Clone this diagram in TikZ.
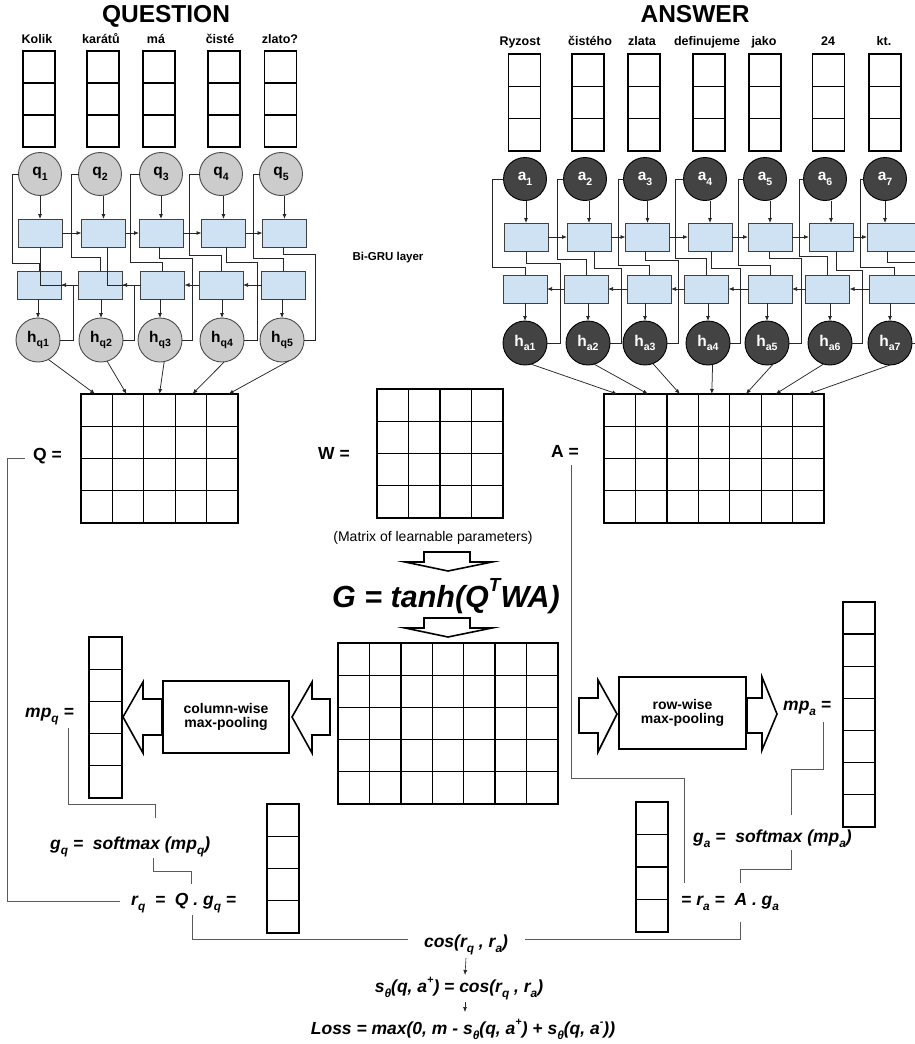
\documentclass[tikz,border=0pt]{standalone}
\usepackage{fontspec}
\usepackage{graphicx}
\setmainfont{Liberation Sans}
\usetikzlibrary{arrows.meta,calc}
\definecolor{grufill}{HTML}{CFE2F3}
\definecolor{qfill}{HTML}{CCCCCC}
\definecolor{afill}{HTML}{434343}
\definecolor{lgray}{HTML}{5A5A5A}
\newcommand\sbs[1]{\raisebox{-0.3em}{\scalebox{0.68}{#1}}}
\newcommand\sps[1]{\raisebox{0.5em}{\scalebox{0.62}{#1}}}
\newcommand\fs[1]{\fontsize{#1}{#1}\selectfont}
\newcommand\vcol[6]{%
  \node[mbox, minimum width=#6, minimum height={#4*#5}, anchor=north] (#1) at (#2,#3) {};
  \pgfmathtruncatemacro\nmc{#4-1}%
  \foreach \k in {1,...,\nmc}{\draw[matl] ($(#1.north west)+(0,\k*#5)$) -- ($(#1.north east)+(0,\k*#5)$);}
}
\newcommand\mgrid[7]{%
  \node[mbox, minimum width={#4-#2}, minimum height={#5-#3}, anchor=north west] (#1) at (#2,#3) {};
  \pgfmathtruncatemacro\mgc{#6-1}%
  \pgfmathtruncatemacro\mgr{#7-1}%
  \foreach \k in {1,...,\mgc}{\draw[matl] ($(#1.north west)!\k/#6!(#1.north east)$) -- ($(#1.south west)!\k/#6!(#1.south east)$);}
  \foreach \k in {1,...,\mgr}{\draw[matl] ($(#1.north west)!\k/#7!(#1.south west)$) -- ($(#1.north east)!\k/#7!(#1.south east)$);}
}
\begin{document}
\begin{tikzpicture}[x=1pt,y=-1pt,
  conn/.style={draw=black!85, line width=0.75pt},
  gconn/.style={draw=lgray, line width=0.8pt},
  arr/.style={conn, -{Latex[length=5pt,width=4pt]}},
  matl/.style={line width=1.3pt},
  mbox/.style={draw, line width=1.3pt, inner sep=0pt, outer sep=0pt},
  gru/.style={draw=black!75, fill=grufill, line width=0.9pt, minimum width=44pt, minimum height=28pt, inner sep=0pt, outer sep=0pt},
  qc/.style={circle, draw=black!70, fill=qfill, line width=0.9pt, minimum size=43pt, inner sep=0pt, outer sep=0pt, font=\bfseries\fs{15.5}},
  ac/.style={qc, draw=black, fill=afill, text=white},
  hqc/.style={qc, minimum size=44pt},
  hac/.style={ac, minimum size=44pt},
  wd/.style={font=\bfseries\fs{12.5}, anchor=base, inner sep=0pt},
  lbl/.style={font=\bfseries\fs{17.5}, inner sep=0pt},
  eq/.style={font=\bfseries\itshape\fs{17.5}, inner sep=0pt},
  blk/.style={draw, line width=1.6pt, fill=white, line join=miter},
  pool/.style={draw, line width=1.8pt, minimum width=126pt, minimum height=72pt, font=\bfseries\fs{14}, align=center, inner sep=0pt},
]
\useasboundingbox (0,0) rectangle (914,1044);
\fill[white] (0,0) rectangle (914,1044);

% titles
\node[font=\bfseries\fs{24.5}, anchor=base, inner sep=0pt] (tq) at (166,23) {QUESTION};
\node[font=\bfseries\fs{24.5}, anchor=base, inner sep=0pt] (ta) at (695,22) {ANSWER};

% words
\foreach \w/\x [count=\i] in {Kolik/37, karátů/101, má/156, čisté/220, zlato?/280}{\node[wd] (wq\i) at (\x,43) {\w};}
\foreach \w/\x [count=\i] in {Ryzost/520, čistého/590, zlata/642, definujeme/707, jako/764, 24/828, kt./884}{\node[wd] (wa\i) at (\x,45) {\w};}

% word vectors
\foreach \x [count=\i] in {39,103,159,224,280.5}{\vcol{vq\i}{\x}{51}{3}{32}{32}}
\foreach \x [count=\i] in {524.5,588,644,709,765,828.5,885}{\vcol{va\i}{\x}{54}{3}{32.3}{32}}

% input circles
\foreach \x [count=\i] in {40,100,161,221,281}{\node[qc] (q\i) at (\x,174) {q\sbs{\i}};}
\foreach \x [count=\i] in {525,585,645,705,765,825,885}{\node[ac] (a\i) at (\x,179) {a\sbs{\i}};}

% GRU boxes
\foreach \x [count=\i] in {40,103.5,161,223.5,284.5}{\node[gru] (fq\i) at (\x,233) {};}
\foreach \x [count=\i] in {39,100,162.5,221,283.5}{\node[gru] (bq\i) at (\x,285) {};}
\foreach \x [count=\i] in {526,589,647.5,710,770,831}{\node[gru] (fa\i) at (\x,237) {};}
\node[gru, minimum width=50pt] (fa7) at (892,237) {};
\foreach \x [count=\i] in {525,586,649,706.5,770,827.5}{\node[gru] (ba\i) at (\x,289) {};}
\node[gru, minimum width=50pt] (ba7) at (894,289) {};

% output circles
\foreach \x [count=\i] in {38,101,160,222,282}{\node[hqc] (hq\i) at (\x,340) {h\sbs{q\i}};}
\foreach \x [count=\i] in {525,588,645,708,767,830,890}{\node[hac] (ha\i) at (\x,343) {h\sbs{a\i}};}

\node[font=\bfseries\fs{11.5}] (bigru) at (388,258) {Bi-GRU layer};

% question GRU connections
\foreach \i in {1,...,5}{
  \draw[arr] (fq\i.north |- q\i.south) -- (fq\i.north);
  \draw[arr] (bq\i.south -| hq\i.north) -- (hq\i.north);
}
\foreach \i/\j in {1/2,2/3,3/4,4/5}{
  \draw[arr] (fq\i.east) -- (fq\j.west);
  \draw[arr] (bq\j.west) -- (bq\i.east);
}
\foreach \i/\xx/\yy in {1/12/263, 2/71/257, 3/130/262, 4/189/255, 5/253/258}{
  \draw[conn] (q\i.west) -| (\xx,\yy) -| (bq\i.north);
}
\foreach \i/\s/\yy/\xx in {1/0/285/73, 2/3.5/285/134, 3/-1.5/258/192, 4/2.5/262/257, 5/-1.5/254/315}{
  \draw[conn] ([xshift=\s pt]fq\i.south) |- (\xx,\yy) |- (hq\i.east);
}

% answer GRU connections
\foreach \i in {1,...,6}{
  \draw[arr] (fa\i.north |- a\i.south) -- (fa\i.north);
  \draw[arr] (ba\i.south -| ha\i.north) -- (ha\i.north);
}
\draw[arr] (a7.south) -- (a7.south |- fa7.north);
\draw[arr] (ha7.north |- ba7.south) -- (ha7.north);
\foreach \i/\j in {1/2,2/3,3/4,4/5,5/6,6/7}{
  \draw[arr] (fa\i.east) -- (fa\j.west);
  \draw[arr] (ba\j.west) -- (ba\i.east);
}
\foreach \i/\xx/\yy in {1/492/267, 2/557/259, 3/618/265, 4/675/258, 5/738/265, 6/799/256, 7/860/267}{
  \draw[conn] (a\i.west) -| (\xx,\yy) -| (ba\i.north);
}
\foreach \i/\s/\yy/\xx in {1/0/263/560, 2/5/268/621, 3/-2.5/260/678, 4/1/268/740, 5/-1/258/801, 6/5/270/862, 7/-5/262/935}{
  \draw[conn] ([xshift=\s pt]fa\i.south) |- (\xx,\yy) |- (ha\i.east);
}

% matrices
\mgrid{Q}{81}{394}{238}{523}{5}{4}
\mgrid{W}{377}{389}{503}{518}{4}{4}
\mgrid{A}{604}{394}{824}{523}{7}{4}
\mgrid{G}{338}{643}{558}{804}{7}{5}

% hidden states to matrices
\foreach \i/\ang/\f in {1/-62/0.09, 2/-74/0.29, 3/-79/0.5, 4/-84/0.71, 5/-72/0.94}{
  \draw[arr] (hq\i.\ang) -- ($(Q.north west)!\f!(Q.north east)$);
}
\foreach \i/\ang/\f in {1/-74/0.06, 2/-74/0.2, 3/-69/0.345, 4/-78/0.49, 5/-74/0.645, 6/-107/0.78, 7/-90/0.93}{
  \draw[arr] (ha\i.\ang) -- ($(A.north west)!\f!(A.north east)$);
}

% matrix labels
\node[lbl, anchor=base west] (qeq) at (33,460) {Q =};
\node[lbl, anchor=base west] (weq) at (318,459) {W =};
\node[lbl, anchor=base west] (aeq) at (551,457) {A =};
\node[font=\fs{14}, anchor=base, inner sep=0pt] (wnote) at (433,541) {(Matrix of learnable parameters)};

% G
\draw[blk] (424,552) -- (470,552) -- (470,562) -- (492,562) -- (448,571) -- (405,562) -- (424,562) -- cycle;
\node[font=\bfseries\itshape\fs{30.5}, anchor=base, inner sep=0pt] (geq) at (446,607) {G = tanh(Q\sps{T}WA)};
\draw[blk] (424,618) -- (470,618) -- (470,628) -- (492,628) -- (448,637) -- (405,628) -- (424,628) -- cycle;

% pooling
\draw[blk] (330,699) -- (312,699) -- (312,682) -- (292,717) -- (312,753) -- (312,735) -- (330,735) -- cycle;
\node[pool] (cwp) at (226,717) {column-wise\\max-pooling};
\draw[blk] (162,699) -- (143,699) -- (143,682) -- (123,717) -- (143,753) -- (143,735) -- (162,735) -- cycle;
\draw[blk] (579,698) -- (598,698) -- (598,680) -- (617,714) -- (598,752) -- (598,733) -- (579,733) -- cycle;
\node[pool, minimum width=127pt] (rwp) at (682.5,713) {row-wise\\max-pooling};
\draw[blk] (747,698) -- (762,698) -- (762,677) -- (777,714) -- (762,750) -- (762,733) -- (747,733) -- cycle;

% vectors
\vcol{mpq}{105.5}{637}{5}{32.2}{33}
\vcol{mpa}{859}{602}{7}{32.14}{32}
\vcol{rqv}{283}{804}{4}{32.25}{32}
\vcol{rav}{652}{802}{4}{32.5}{32}

% equations
\node[eq, anchor=base west] (mpql) at (25,717) {mp\sbs{q} =};
\node[eq, anchor=base west] (mpal) at (783,710) {mp\sbs{a} =};
\node[eq, anchor=base west] (gql) at (50,849) {g\sbs{q} = \ softmax (mp\sbs{q})};
\node[eq, anchor=base west] (rql) at (131,905) {r\sbs{q} \ = \ Q . g\sbs{q} =};
\node[eq, anchor=base west] (gal) at (693,842) {g\sbs{a} = \ softmax (mp\sbs{a})};
\node[eq, anchor=base west] (ral) at (681,905) {= r\sbs{a} = \ A . g\sbs{a}};
\node[eq, anchor=base] (cosl) at (466,947) {cos(r\sbs{q} , r\sbs{a})};
\node[eq, anchor=base] (sl) at (459,992) {s\sbs{θ}(q, a\sps{+}) = cos(r\sbs{q} , r\sbs{a})};
\node[eq, anchor=base] (lossl) at (463,1034) {Loss = max(0, m - s\sbs{θ}(q, a\sps{+}) + s\sbs{θ}(q, a\sps{-}))};

% equation links
\draw[gconn] (68,728) |- (155,804) -- (155,818);
\draw[gconn] (153,858) |- (191,871) -- (191,884);
\draw[gconn] (25,458) -| (7,901) -- (120,901);
\draw[gconn] (192,915) |- (408,939);
\draw[gconn] (525,939) -| (740,922);
\draw[gconn] (791,850) |- (740,869) -- (740,883);
\draw[gconn] (823,722) |- (791,769) -- (791,815);
\draw[gconn] (571,465) |- (684,778) -- (684,883);
\draw[arr, line width=0.6pt] (cosl.south |- 0,958) -- (465,975);
\draw[arr, line width=0.6pt] (465,1002) -- (465,1012);
\end{tikzpicture}
\end{document}
